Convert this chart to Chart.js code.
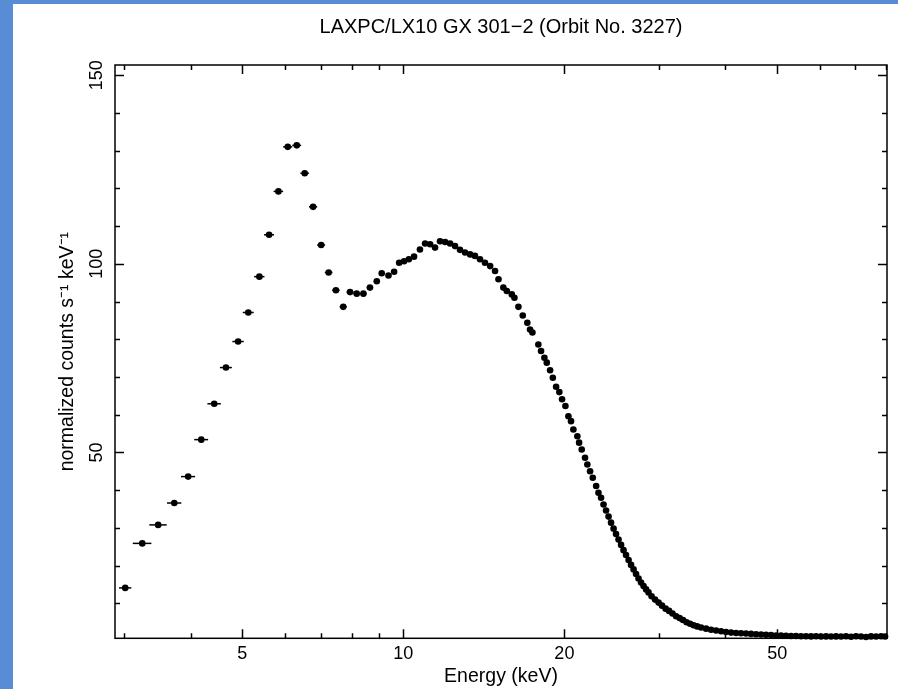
<!DOCTYPE html>
<html>
<head>
<meta charset="utf-8">
<script src="https://cdn.jsdelivr.net/npm/chart.js@4.4.1/dist/chart.umd.min.js"></script>
<style>
  html, body { margin: 0; padding: 0; background: #588dd5; }
  #wrap { position: absolute; left: 13px; top: 4px; width: 885px; height: 685px; background: #fff; }
</style>
</head>
<body>
<div id="wrap"><canvas id="spectrum"></canvas></div>
<script>
// spectrum points (keV, normalized counts s^-1 keV^-1)
const energy = [
  3.02, 3.25, 3.48, 3.73, 3.96, 4.19, 4.43, 4.66, 4.91, 5.13,
  5.38, 5.61, 5.84, 6.08, 6.32, 6.54, 6.78, 7.02, 7.25, 7.48,
  7.72, 7.95, 8.18, 8.42, 8.66, 8.92, 9.11, 9.38, 9.61, 9.82,
  10.03, 10.24, 10.47, 10.74, 10.98, 11.22, 11.46, 11.71, 11.97, 12.23,
  12.49, 12.76, 13.04, 13.33, 13.61, 13.91, 14.21, 14.53, 14.84, 15.06,
  15.38, 15.61, 15.95, 16.13, 16.41, 16.72, 17.05, 17.25, 17.43, 17.88,
  18.09, 18.35, 18.54, 18.81, 19.03, 19.30, 19.57, 19.80, 20.09, 20.35,
  20.58, 20.79, 21.15, 21.31, 21.55, 21.86, 22.08, 22.34, 22.60, 22.93,
  23.16, 23.42, 23.67, 23.93, 24.19, 24.45, 24.72, 24.98, 25.25, 25.53,
  25.80, 26.08, 26.37, 26.65, 26.94, 27.23, 27.52, 27.82, 28.12, 28.43,
  28.73, 29.11, 29.55, 30.00, 30.45, 30.92, 31.39, 31.86, 32.35, 32.84,
  33.33, 33.84, 34.36, 34.88, 35.41, 36.02, 36.81, 37.61, 38.43, 39.26,
  40.11, 40.99, 41.88, 42.79, 43.72, 44.67, 45.64, 46.64, 47.65, 48.69,
  49.75, 50.83, 51.93, 53.07, 54.22, 55.40, 56.60, 57.84, 59.10, 60.38,
  61.69, 63.04, 64.41, 65.81, 67.24, 68.70, 70.20, 71.72, 73.29, 74.88,
  76.51, 78.18, 79.53
];
const counts = [
  14.1, 25.9, 30.8, 36.6, 43.6, 53.4, 62.9, 72.5, 79.4, 87.1,
  96.6, 107.7, 119.2, 131.0, 131.4, 124.0, 115.1, 105.0, 97.7, 93.0,
  88.6, 92.5, 92.1, 92.1, 93.7, 95.4, 97.5, 96.9, 97.9, 100.3,
  100.7, 101.2, 101.9, 103.8, 105.4, 105.2, 104.3, 106.0, 105.8, 105.4,
  104.7, 103.7, 103.0, 102.5, 102.1, 101.2, 100.3, 99.4, 98.1, 95.9,
  93.7, 92.8, 91.9, 91.0, 88.6, 86.3, 84.4, 82.6, 81.8, 78.6,
  76.9, 75.1, 73.8, 71.8, 69.8, 67.4, 66.0, 64.1, 62.3, 59.6,
  58.3, 56.1, 54.3, 52.6, 50.8, 48.6, 46.8, 45.0, 43.3, 41.1,
  39.3, 38.0, 36.2, 34.6, 33.0, 31.4, 29.8, 28.4, 26.9, 25.5,
  24.1, 22.8, 21.5, 20.2, 19.0, 17.8, 16.6, 15.5, 14.6, 13.7,
  12.9, 11.9, 11.0, 10.2, 9.4, 8.6, 8.0, 7.3, 6.6, 6.1,
  5.6, 5.0, 4.6, 4.2, 3.9, 3.6, 3.3, 3.0, 2.8, 2.6,
  2.4, 2.25, 2.15, 2.07, 2.0, 1.9, 1.83, 1.75, 1.67, 1.6,
  1.5, 1.45, 1.4, 1.35, 1.33, 1.3, 1.3, 1.25, 1.3, 1.2,
  1.25, 1.2, 1.25, 1.2, 1.3, 1.15, 1.3, 1.2, 1.1, 1.25,
  1.2, 1.3, 1.2
];
// half bin widths (keV) for the low energy channels, where the bars show
const energyHalfWidth = [
  0.08, 0.13, 0.13, 0.115, 0.12, 0.125, 0.128, 0.12, 0.12, 0.12,
  0.12, 0.12, 0.12, 0.12, 0.12, 0.12, 0.12, 0.12, 0.12, 0.12,
  0.12, 0.12, 0.12, 0.12, 0.12, 0.12
];

const xMajorTicks = [5, 10, 20, 50];
const xMinorTicks = [3, 4, 6, 7, 8, 9, 30, 40, 60, 70, 80];
const yMajorTicks = [50, 100, 150];
const yMinorTicks = [10, 20, 30, 40, 60, 70, 80, 90, 110, 120, 130, 140];

const FONT = '"Liberation Sans", Arial, Helvetica, sans-serif';

// frame, inward ticks on all four sides, rotated y labels, x error bars
const framePlugin = {
    id: 'frame',
    beforeDatasetsDraw(chart) {
        const ctx = chart.ctx;
        const xs = chart.scales.x, ys = chart.scales.y;
        ctx.save();
        ctx.strokeStyle = '#000';
        ctx.lineWidth = 1.5;
        energyHalfWidth.forEach(function (hw, i) {
            const py = ys.getPixelForValue(counts[i]);
            ctx.beginPath();
            ctx.moveTo(xs.getPixelForValue(energy[i] - hw), py);
            ctx.lineTo(xs.getPixelForValue(energy[i] + hw), py);
            ctx.stroke();
        });
        ctx.restore();
    },
    afterDraw(chart) {
        const ctx = chart.ctx;
        const a = chart.chartArea;
        const xs = chart.scales.x, ys = chart.scales.y;
        ctx.save();
        ctx.strokeStyle = '#000';
        ctx.lineWidth = 1.5;
        ctx.strokeRect(a.left, a.top, a.right - a.left, a.bottom - a.top);

        ctx.beginPath();
        const xTick = function (v, len) {
            const px = Math.round(xs.getPixelForValue(v)) + 0.5;
            ctx.moveTo(px, a.bottom); ctx.lineTo(px, a.bottom - len);
            ctx.moveTo(px, a.top); ctx.lineTo(px, a.top + len);
        };
        const yTick = function (v, len) {
            const py = Math.round(ys.getPixelForValue(v)) + 0.5;
            ctx.moveTo(a.left, py); ctx.lineTo(a.left + len, py);
            ctx.moveTo(a.right, py); ctx.lineTo(a.right - len, py);
        };
        xMajorTicks.forEach(v => xTick(v, 9));
        xMinorTicks.forEach(v => xTick(v, 5));
        yMajorTicks.forEach(v => yTick(v, 9));
        yMinorTicks.forEach(v => yTick(v, 5));
        ctx.stroke();

        ctx.fillStyle = '#000';
        ctx.font = '18px ' + FONT;
        ctx.textAlign = 'center';
        ctx.textBaseline = 'middle';
        yMajorTicks.forEach(function (v) {
            ctx.save();
            ctx.translate(a.left - 18, ys.getPixelForValue(v));
            ctx.rotate(-Math.PI / 2);
            ctx.fillText(String(v), 0, 0);
            ctx.restore();
        });
        ctx.restore();
    }
};

new Chart(document.getElementById('spectrum'), {
    type: 'scatter',
    data: {
        datasets: [{
            data: energy.map((e, i) => ({ x: e, y: counts[i] })),
            pointRadius: 3.3,
            pointHoverRadius: 3.3,
            pointBackgroundColor: '#000',
            pointBorderWidth: 0,
            clip: false
        }]
    },
    options: {
        responsive: true,
        maintainAspectRatio: false,
        animation: false,
        layout: { padding: { left: 0, right: 11, top: 0, bottom: 0 } },
        plugins: {
            legend: { display: false },
            tooltip: { enabled: false },
            title: {
                display: true,
                fullSize: false,
                text: 'LAXPC/LX10 GX 301\u22122 (Orbit No. 3227)',
                color: '#000',
                font: { family: FONT, size: 20, weight: 'normal' },
                padding: { top: 11.2, bottom: 25.8 }
            }
        },
        scales: {
            x: {
                type: 'logarithmic',
                min: 2.89,
                max: 80.2,
                grid: { display: false },
                border: { display: false },
                afterBuildTicks: function (scale) {
                    scale.ticks = xMajorTicks.map(v => ({ value: v }));
                },
                afterFit: function (scale) { scale.height = 50.7; },
                ticks: {
                    autoSkip: false,
                    maxRotation: 0,
                    padding: -3,
                    color: '#000',
                    font: { family: FONT, size: 18 },
                    callback: v => String(v)
                },
                title: {
                    display: true,
                    text: 'Energy (keV)',
                    color: '#000',
                    font: { family: FONT, size: 19.5 },
                    padding: { top: 0, bottom: 0.3 }
                }
            },
            y: {
                type: 'linear',
                min: 0.74,
                max: 152.7,
                grid: { display: false },
                border: { display: false },
                afterFit: function (scale) { scale.width = 102; },
                ticks: { display: false },
                title: {
                    display: true,
                    text: 'normalized counts s\u207B\u00B9 keV\u207B\u00B9',
                    color: '#000',
                    font: { family: FONT, size: 19.5 },
                    padding: { top: 43.1, bottom: 0 }
                }
            }
        }
    },
    plugins: [framePlugin]
});
</script>
</body>
</html>
